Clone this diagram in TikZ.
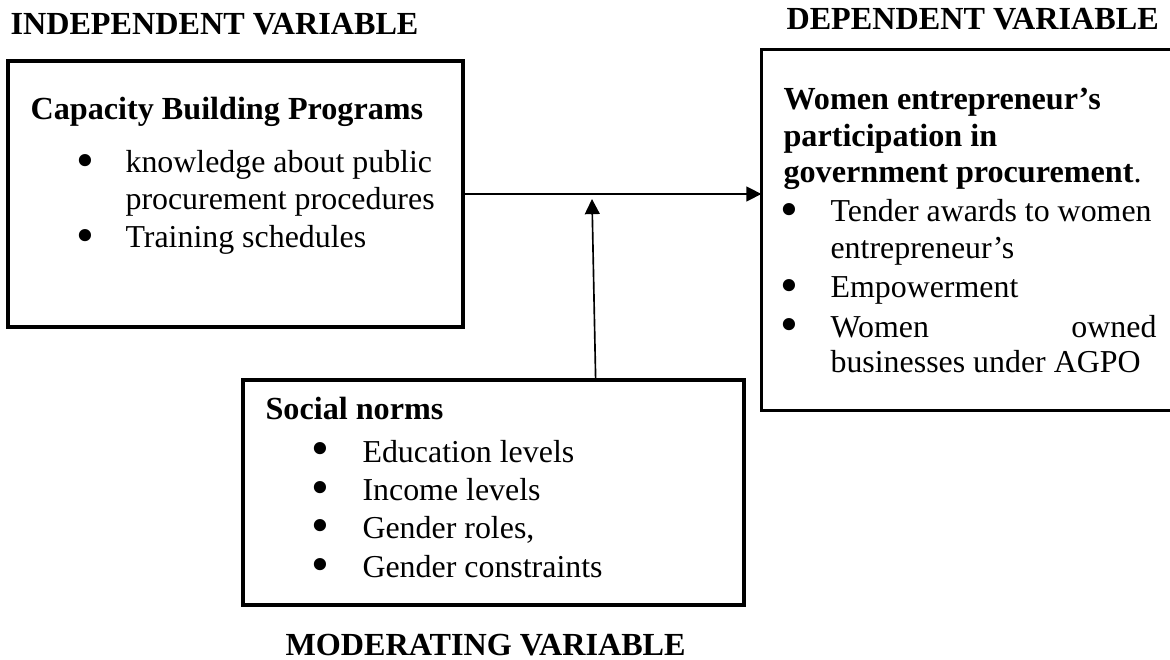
\documentclass[tikz,border=0pt]{standalone}
\usepackage{fontspec}
\setmainfont{Liberation Serif}
\usetikzlibrary{arrows.meta,fit,calc}
\newcommand{\bigbul}{\scalebox{1.6}{\textbullet}}
\begin{document}
\begin{tikzpicture}[x=0.36364pt,y=-0.36364pt,
  txt/.style={inner sep=0pt,anchor=base west,font=\fontsize{11.6}{14}\selectfont},
  btxt/.style={inner sep=0pt,anchor=base west,font=\fontsize{11.7}{14}\selectfont\bfseries},
  bul/.style={inner sep=0pt,anchor=center,font=\fontsize{11.6}{14}\selectfont},
  box/.style={draw,line width=1.1pt,rectangle,inner sep=0pt},
  conn/.style={line width=0.6pt,-{Triangle[length=5.5pt,width=5.4pt]}}]
\useasboundingbox (0,0) rectangle (1170,660);

% titles
\node[btxt] (tIV) at (10,35) {INDEPENDENT VARIABLE};
\node[btxt] (tDV) at (786,30) {DEPENDENT VARIABLE};
\node[btxt] (tMV) at (285,655) {MODERATING VARIABLE};

% boxes
\node[box,fit={(8,61) (463,327)}] (L) {};
\node[inner sep=0pt,fit={(762,50) (1176,410)}] (R) {};
\draw[line width=1.1pt] (R.north east) -- (R.north west) -- (R.south west) -- (R.south east);
\node[box,fit={(243,380) (744,605)}] (S) {};

% left box text
\node[btxt] (l0) at (30,120) {Capacity Building Programs};
\node[bul] (lb1) at (85,166) {\bigbul};
\node[txt] (l1) at (125,173) {knowledge about public};
\node[txt] (l2) at (125,210) {procurement procedures};
\node[bul] (lb2) at (85,241) {\bigbul};
\node[txt] (l3) at (125,248) {Training schedules};

% right box text
\node[btxt] (r0) at (783,110) {Women entrepreneur’s};
\node[btxt] (r1) at (783,147) {participation in};
\node[txt] (r2) at (783,183) {\fontsize{11.7}{14}\selectfont\textbf{government procurement}.};
\node[bul] (rb1) at (789,215) {\bigbul};
\node[txt] (r3) at (830,222) {Tender awards to women};
\node[txt] (r4) at (830,258) {entrepreneur’s};
\node[bul] (rb2) at (789,291) {\bigbul};
\node[txt] (r5) at (830,298) {Empowerment};
\node[bul] (rb3) at (789,330) {\bigbul};
\node[txt] (r6) at (830,337) {Women};
\node[txt,anchor=base east] (r7) at (1157,337) {owned};
\node[txt] (r8) at (830,373) {businesses under AGPO};

% social box text
\node[btxt] (s0) at (265,420) {Social norms};
\node[bul] (sb1) at (320,454) {\bigbul};
\node[txt] (s1) at (362,462) {Education levels};
\node[bul] (sb2) at (320,493) {\bigbul};
\node[txt] (s2) at (362,500) {Income levels};
\node[bul] (sb3) at (320,531) {\bigbul};
\node[txt] (s3) at (362,538) {Gender roles,};
\node[bul] (sb4) at (320,570) {\bigbul};
\node[txt] (s4) at (362,577) {Gender constraints};

% connectors
\draw[conn] (L.east) -- (R.west |- L.east);
\coordinate (Sa) at ($(S.north west)!0.7026!(S.north east)$);
\coordinate (M) at (592,199);
\draw[conn] (Sa) -- (M);
\end{tikzpicture}
\end{document}
